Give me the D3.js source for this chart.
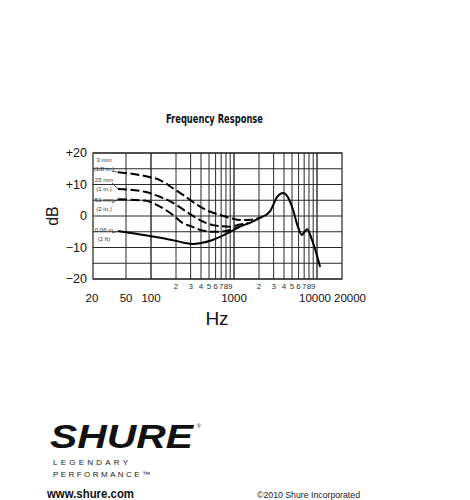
<!DOCTYPE html>
<html><head><meta charset="utf-8">
<script src="https://cdn.jsdelivr.net/npm/d3@7"></script>
<style>
body{margin:0;background:#fff;}
svg{display:block;}
text{font-family:"Liberation Sans",Arial,Helvetica,sans-serif;fill:#111;}
</style></head>
<body>
<svg id="c" width="470" height="500"></svg>
<script>
// ---- data ----
const title = "Frequency Response";
const majorTicks = [20, 50, 100, 1000, 10000, 20000];
const minorTicks = [200,300,400,500,600,700,800,900,2000,3000,4000,5000,6000,7000,8000,9000];
const minorLabels = ["2","3","4","5","6","7","8","9","2","3","4","5","6","7","8","9"];
const gridFreqs = [50,100,200,300,400,500,600,700,800,900,1000,2000,3000,4000,5000,6000,7000,8000,9000,10000];
const yTicks = [20, 10, 0, -10, -20];
const yTickLabels = ["+20", "+10", "0", "\u221210", "\u221220"];
const yGrid = [-20,-15,-10,-5,0,5,10,15,20];

// 0.06 m (2 ft) — solid
const freq2ft = [40, 60, 100, 150, 200, 250, 320, 400, 550, 680, 900, 1180, 1600, 2050, 2700, 3300, 3900, 4450, 5150, 5900, 6600, 7100, 7600, 8700, 10900];
const db2ft   = [-4.8, -5.5, -6.4, -7.2, -7.9, -8.5, -8.9, -8.6, -7.6, -6.6, -5.0, -3.4, -2.0, -0.6, 1.4, 6.0, 7.3, 6.0, 1.9, -3.5, -6.0, -5.0, -4.2, -7.6, -16.2];
// 3 mm (1/8 in.) — dashed
const freq3mm = [40, 84, 128, 184, 243, 300, 390, 500, 680, 900, 1180, 1600, 2100];
const db3mm   = [13.9, 12.7, 11.4, 8.8, 6.7, 5.0, 3.0, 1.5, 0.3, -0.6, -1.3, -1.2, -0.5];
// 25 mm (1 in.) — dashed
const freq25mm = [40, 84, 128, 184, 243, 300, 390, 560, 900, 1180, 1500];
const db25mm   = [8.6, 7.7, 6.1, 4.2, 2.1, 0.5, -1.3, -2.9, -3.4, -2.7, -2.2];
// 51 mm (2 in.) — dashed
const freq51mm = [40, 84, 128, 184, 243, 300, 390, 550, 680, 900, 1150];
const db51mm   = [5.3, 4.9, 3.0, 0.3, -2.3, -3.2, -4.4, -5.0, -5.0, -4.4, -3.5];

const curveLabels = [
  ["3 mm", "(1/8 in.)"],
  ["25 mm", "(1 in.)"],
  ["51 mm", "(2 in.)"],
  ["0.06 m", "(2 ft)"]
];
const labelRows = [162, 182, 202, 232];

// ---- drawing ----
const svg = d3.select("#c");
svg.append("rect").attr("width",470).attr("height",500).attr("fill","#fff");

const L = 93, R = 342, T = 153, B = 279;
const x = d3.scaleLog().domain([20, 20000]).range([L, R]);
const y = d3.scaleLinear().domain([-20, 20]).range([B, T]);

// title
svg.append("text").attr("x", 166).attr("y", 123)
  .style("font-family", '"DejaVu Sans Condensed","Liberation Sans",sans-serif')
  .style("font-weight","bold").style("font-size","12px")
  .attr("textLength", 97).attr("lengthAdjust","spacingAndGlyphs").text(title);

// grid
const g = svg.append("g");
g.selectAll("line.h").data(yGrid).enter().append("line")
  .attr("x1", L).attr("x2", R).attr("y1", d => y(d)).attr("y2", d => y(d))
  .attr("stroke", "#2a2a2a").attr("stroke-width", 1);
g.selectAll("line.v").data(gridFreqs).enter().append("line")
  .attr("x1", d => x(d)).attr("x2", d => x(d)).attr("y1", T).attr("y2", B)
  .attr("stroke", "#2a2a2a").attr("stroke-width", d => (d===1000||d===10000||d===100)?1.4:1);
g.append("rect").attr("x", L).attr("y", T).attr("width", R - L).attr("height", B - T)
  .attr("fill","none").attr("stroke","#222").attr("stroke-width",1.2);

// y tick labels
svg.selectAll("text.yt").data(yTicks).enter().append("text")
  .attr("x", L - 6).attr("y", d => y(d)).attr("dy","0.35em").attr("text-anchor","end")
  .style("font-size","12.5px").text((d,i) => yTickLabels[i]);

// x major labels
svg.selectAll("text.xt").data(majorTicks).enter().append("text")
  .attr("x", d => x(d)).attr("dx", d => d===20000 ? 8 : (d===20 ? -1 : (d===10000 ? -2 : 0)))
  .attr("y", 302).attr("text-anchor","middle")
  .style("font-size","11.5px").text(d => String(d));

// minor labels
svg.selectAll("text.mt").data(minorTicks).enter().append("text")
  .attr("x", d => x(d)).attr("y", 289).attr("text-anchor","middle")
  .style("font-size","8px").style("fill","#333").text((d,i) => minorLabels[i]);

// axis titles
svg.append("text").attr("x", 217).attr("y", 325).attr("text-anchor","middle")
  .style("font-size","19px").text("Hz");
svg.append("text").attr("transform","translate(58,216) rotate(-90)").attr("text-anchor","middle")
  .style("font-size","16px").text("dB");

// curves
const line = d3.line().x(d => x(d[0])).y(d => y(d[1])).curve(d3.curveMonotoneX);
const zip = (a,b) => a.map((v,i) => [v, b[i]]);
const series = [
  {f: freq3mm, v: db3mm, dash: "9,3.5"},
  {f: freq25mm, v: db25mm, dash: "9,3.5"},
  {f: freq51mm, v: db51mm, dash: "9,3.5"},
  {f: freq2ft, v: db2ft, dash: null}
];
svg.selectAll("path.s").data(series).enter().append("path")
  .attr("d", d => line(zip(d.f, d.v)))
  .attr("fill","none").attr("stroke","#000").attr("stroke-width",2)
  .attr("stroke-dasharray", d => d.dash);

// curve labels
const lg = svg.append("g");
series.forEach((s, i) => {
  const sx = x(s.f[0]), sy = y(s.v[0]);
  const ry = labelRows[i];
  lg.append("text").attr("x", 104).attr("y", ry).attr("text-anchor","middle")
    .style("font-size","6px").style("fill","#333").text(curveLabels[i][0]);
  lg.append("text").attr("x", 104).attr("y", ry + 8.5).attr("text-anchor","middle")
    .style("font-size","6px").style("fill","#333").text(curveLabels[i][1]);
  const ly = i === 0 ? ry + 9 : ry + 1;
  lg.append("line").attr("x1", 112).attr("x2", sx).attr("y1", ly).attr("y2", sy)
    .attr("stroke","#333").attr("stroke-width",0.8);
});

// footer / branding
svg.append("text").attr("x", 50).attr("y", 448)
  .style("font-family",'"Liberation Sans",Arial,sans-serif').style("font-weight","900")
  .style("font-style","italic").style("font-size","34px")
  .attr("textLength", 143).attr("lengthAdjust","spacingAndGlyphs").text("SHURE");
svg.append("text").attr("x", 197).attr("y", 428).style("font-size","5px").text("\u00AE");
svg.append("text").attr("x", 53).attr("y", 465).style("font-size","8px").style("fill","#222")
  .attr("textLength", 75).attr("lengthAdjust","spacing").text("LEGENDARY");
svg.append("text").attr("x", 53).attr("y", 477).style("font-size","8px").style("fill","#222")
  .attr("textLength", 97).attr("lengthAdjust","spacing").text("PERFORMANCE\u2122");
svg.append("text").attr("x", 47).attr("y", 498).style("font-size","12.5px")
  .style("font-weight","bold").attr("textLength", 87).attr("lengthAdjust","spacingAndGlyphs").text("www.shure.com");
svg.append("text").attr("x", 257).attr("y", 498).style("font-size","9px").style("fill","#222")
  .attr("textLength", 103).attr("lengthAdjust","spacingAndGlyphs").text("\u00A92010 Shure Incorporated");
</script>
</body></html>
